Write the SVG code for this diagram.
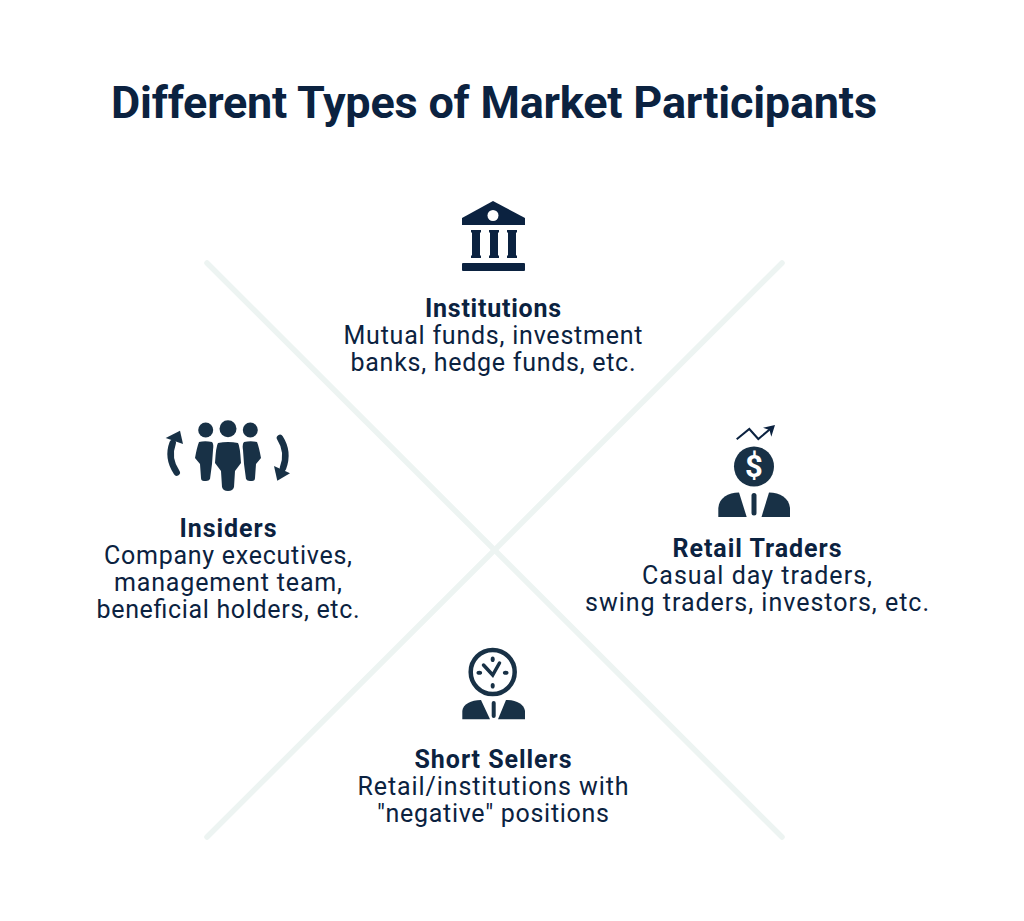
<svg xmlns="http://www.w3.org/2000/svg" width="1024" height="921" viewBox="0 0 1024 921">
<style>
text{font-family:"Roboto","Liberation Sans",sans-serif;text-anchor:middle;fill:#0b2240}
.t{font-size:45px;font-weight:700;text-anchor:start}
.h{font-size:25px;font-weight:700}
.b{font-size:25px}
.d{fill:#0b2240}
.i{fill:#183146}
.c{stroke:#edf4f2;stroke-width:5.500;stroke-linecap:round;fill:none}
.a{fill:none;stroke:#183146;stroke-width:6.500;stroke-linecap:round}
</style>
<rect width="1024" height="921" fill="#fff"/>
<g id="connectors"><path class="c" d="M207 263L782 837"/><path class="c" d="M782 263L207 837"/></g>
<text id="title" class="t" x="111" y="118" textLength="766" lengthAdjust="spacing">Different Types of Market Participants</text>
<g id="institutions">
<path class="d" d="M493 201L525 218V225H462V218Z"/><circle cx="493" cy="215.500" r="5.500" fill="#fff"/>
<path class="d" d="M471 230H481V232.500H480V255.500H481V258H471V255.500H472V232.500H471Z"/>
<path class="d" d="M489 230H499V232.500H498V255.500H499V258H489V255.500H490V232.500H489Z"/>
<path class="d" d="M507 230H517V232.500H516V255.500H517V258H507V255.500H508V232.500H507Z"/>
<rect class="d" x="462" y="263" width="63" height="8" rx="1"/>
<text class="h" x="493" y="317" textLength="136">Institutions</text><text class="b" x="493" y="344" textLength="299">Mutual funds, investment</text><text class="b" x="493" y="371" textLength="285">banks, hedge funds, etc.</text>
</g>
<g id="insiders">
<circle class="i" cx="205.700" cy="430" r="7.500"/><circle class="i" cx="228" cy="428.700" r="8.500"/><circle class="i" cx="250.300" cy="430" r="7.500"/>
<path class="i" d="M199 442Q205 440.500 212 442Q214 444 213 450L212 464L210 479Q209 481 206 481H204Q201 481 201 478L200 464L195 458Q197 447 199 442Z"/>
<path class="i" d="M257 442Q251 440.500 244 442Q242 444 243 450L244 464L246 479Q247 481 250 481H252Q255 481 255 478L256 464L261 458Q259 447 257 442Z"/>
<path class="i" d="M218 443Q228 441 238 443Q240 446 241 463L235 471L234 487Q233 491 228 491Q223 491 222 487L221 471L215 463Q216 446 218 443Z"/>
<path class="a" d="M176.700 472.500Q167 458 172.700 443"/><path class="i" d="M165.700 438L180 430.700L183 444Z"/>
<path class="a" d="M280 438Q289 452 283 468"/><path class="i" d="M274 466L290 473.300L277.300 480.700Z"/>
<text class="h" x="228" y="537" textLength="97">Insiders</text><text class="b" x="228" y="564" textLength="248">Company executives,</text><text class="b" x="228" y="591" textLength="228">management team,</text><text class="b" x="228" y="618" textLength="263">beneficial holders, etc.</text>
</g>
<g id="retail-traders">
<path d="M736.700 439.300L749.300 429L758.300 439L772 427.500" fill="none" stroke="#0b2240" stroke-width="2"/><path class="d" d="M763 427.700L775 425L771.300 436.700L769.500 430Z"/>
<circle class="i" cx="754" cy="466.500" r="20"/><text x="754" y="477" style="font-size:31px;font-weight:700;fill:#fff">$</text>
<path class="i" d="M718.300 517V508C719 498 728 492.500 739 492.500L746.700 517Z"/><path class="i" d="M790 517V508C789 498 780 492.500 769 492.500L761.500 517Z"/><rect class="i" x="751.500" y="493" width="5" height="22.500" rx="2.500"/>
<text class="h" x="757" y="557" textLength="169">Retail Traders</text><text class="b" x="757" y="584" textLength="230">Casual day traders,</text><text class="b" x="757" y="611" textLength="344">swing traders, investors, etc.</text>
</g>
<g id="short-sellers">
<circle cx="492.700" cy="672" r="22" fill="#fff" stroke="#183146" stroke-width="4.500"/>
<path d="M483.500 665L492.700 675L499.500 663" fill="none" stroke="#183146" stroke-width="3.500" stroke-linecap="round"/>
<ellipse class="i" cx="492.700" cy="659.300" rx="2" ry="2.800"/><ellipse class="i" cx="492.700" cy="685.700" rx="2" ry="2.800"/><ellipse class="i" cx="479.300" cy="672.700" rx="2.800" ry="2"/><ellipse class="i" cx="505.700" cy="672.700" rx="2.800" ry="2"/>
<path class="i" d="M462.300 719.300V711C463 704 471 700 481 700L490 719.300Z"/><path class="i" d="M525 719.300V711C524 704 516 700 506 700L498 719.300Z"/><rect class="i" x="491.700" y="701" width="4" height="17" rx="2"/>
<text class="h" x="493" y="768" textLength="157">Short Sellers</text><text class="b" x="493" y="795" textLength="271">Retail/institutions with</text><text class="b" x="493" y="822" textLength="232">"negative" positions</text>
</g>
</svg>
